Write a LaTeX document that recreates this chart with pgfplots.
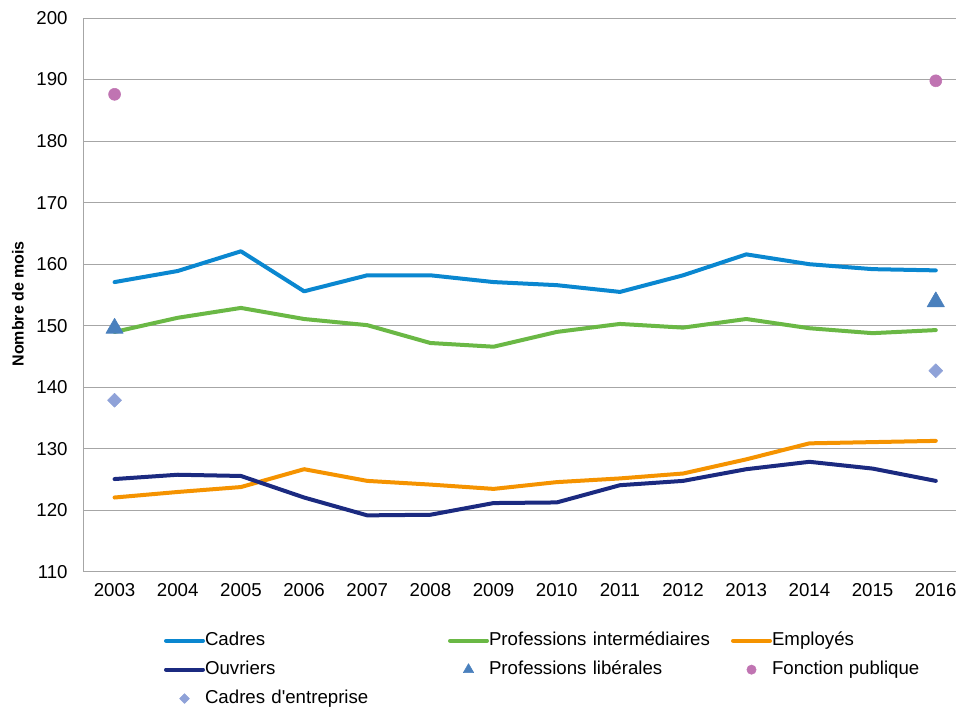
\documentclass[border=0pt]{standalone}
\usepackage{fontspec}
\setmainfont{Liberation Sans}[Ligatures=TeXOff]
\usepackage{pgfplots}
\pgfplotsset{compat=1.18}
\definecolor{cCadres}{HTML}{0A87D0}
\definecolor{cInter}{HTML}{6AB845}
\definecolor{cEmpl}{HTML}{F59300}
\definecolor{cOuvr}{HTML}{1B2A80}
\definecolor{cLib}{HTML}{4A80BD}
\definecolor{cFP}{HTML}{C074B2}
\definecolor{cEnt}{HTML}{8FA2D8}
\definecolor{cGrid}{HTML}{A6A6A6}
\begin{document}
\begin{tikzpicture}
\path[use as bounding box] (0,0) rectangle (717pt,531.75pt);
\begin{axis}[
  at={(62.25pt,102.75pt)}, anchor=south west,
  scale only axis, width=654.75pt, height=415.5pt,
  xmin=2002.5, xmax=2016.32, ymin=110, ymax=200,
  xtick={2003,...,2016}, ytick={110,120,...,200},
  axis x line*=bottom, axis y line*=left,
  axis line style={draw=cGrid, line width=0.75pt},
  major tick length=0pt,
  ymajorgrids, grid style={draw=cGrid, line width=0.75pt},
  tick label style={font=\fontsize{14}{16}\selectfont},
  /pgf/number format/assume math mode=true,
  /pgf/number format/1000 sep={},
  yticklabel style={xshift=-8pt},
  xticklabel style={yshift=-5pt},
  ylabel={Nombre de mois},
  every axis y label/.style={at={(axis description cs:-0.0745,0.484)}, rotate=90, anchor=center,
    font=\bfseries\fontsize{12}{14}\selectfont},
  clip=false,
  legend columns=3,
  legend cell align=left,
  legend style={draw=none, fill=none, inner sep=0pt, outer sep=0pt,
    at={(axis description cs:0.0928,-0.1084)}, anchor=north west,
    font=\fontsize{14}{16}\selectfont,
    nodes={inner sep=0pt, text height=10pt, text depth=3pt},
    row sep=8.7pt, column sep=0pt,
    /tikz/column 2/.style={text width=182.25pt},
    /tikz/column 4/.style={text width=181.5pt}},
  legend image code/.code={\draw[mark repeat=2,mark phase=2,#1] plot coordinates {(0pt,0pt)(13.875pt,0pt)(27.75pt,0pt)}; \path (27.75pt,0pt);},
  every axis plot/.append style={line join=round, line cap=round},
]
\addplot[cCadres, line width=3pt, mark=none] coordinates {
(2003,157.1)(2004,158.9)(2005,162.1)(2006,155.6)(2007,158.2)(2008,158.2)(2009,157.1)
(2010,156.6)(2011,155.5)(2012,158.2)(2013,161.6)(2014,160.0)(2015,159.2)(2016,159.0)};
\addlegendentry{Cadres}
\addplot[cInter, line width=3pt, mark=none] coordinates {
(2003,149.0)(2004,151.3)(2005,152.9)(2006,151.1)(2007,150.1)(2008,147.2)(2009,146.6)
(2010,149.0)(2011,150.3)(2012,149.7)(2013,151.1)(2014,149.6)(2015,148.8)(2016,149.3)};
\addlegendentry{Professions intermédiaires}
\addplot[cEmpl, line width=3pt, mark=none] coordinates {
(2003,122.1)(2004,123.0)(2005,123.8)(2006,126.7)(2007,124.8)(2008,124.2)(2009,123.5)
(2010,124.6)(2011,125.2)(2012,126.0)(2013,128.3)(2014,130.9)(2015,131.1)(2016,131.3)};
\addlegendentry{Employés}
\addplot[cOuvr, line width=3pt, mark=none] coordinates {
(2003,125.1)(2004,125.8)(2005,125.6)(2006,122.1)(2007,119.2)(2008,119.3)(2009,121.2)
(2010,121.3)(2011,124.1)(2012,124.8)(2013,126.7)(2014,127.9)(2015,126.8)(2016,124.8)};
\addlegendentry{Ouvriers}
\addplot[only marks, mark=triangle*, mark size=7.5pt, color=cLib,
  legend image post style={mark size=4.5pt}] coordinates {
(2003,149.6)(2016,153.9)};
\addlegendentry{Professions libérales}
\addplot[only marks, mark=*, mark size=4.5pt, color=cFP,
  legend image post style={mark size=3.5pt}] coordinates {
(2003,187.6)(2016,189.8)};
\addlegendentry{Fonction publique}
\addplot[only marks, mark=square*, mark size=3.7pt, mark options={rotate=45}, color=cEnt,
  legend image post style={mark size=2.6pt}] coordinates {
(2003,137.9)(2016,142.7)};
\addlegendentry{Cadres d'entreprise}
\end{axis}
\end{tikzpicture}
\end{document}
